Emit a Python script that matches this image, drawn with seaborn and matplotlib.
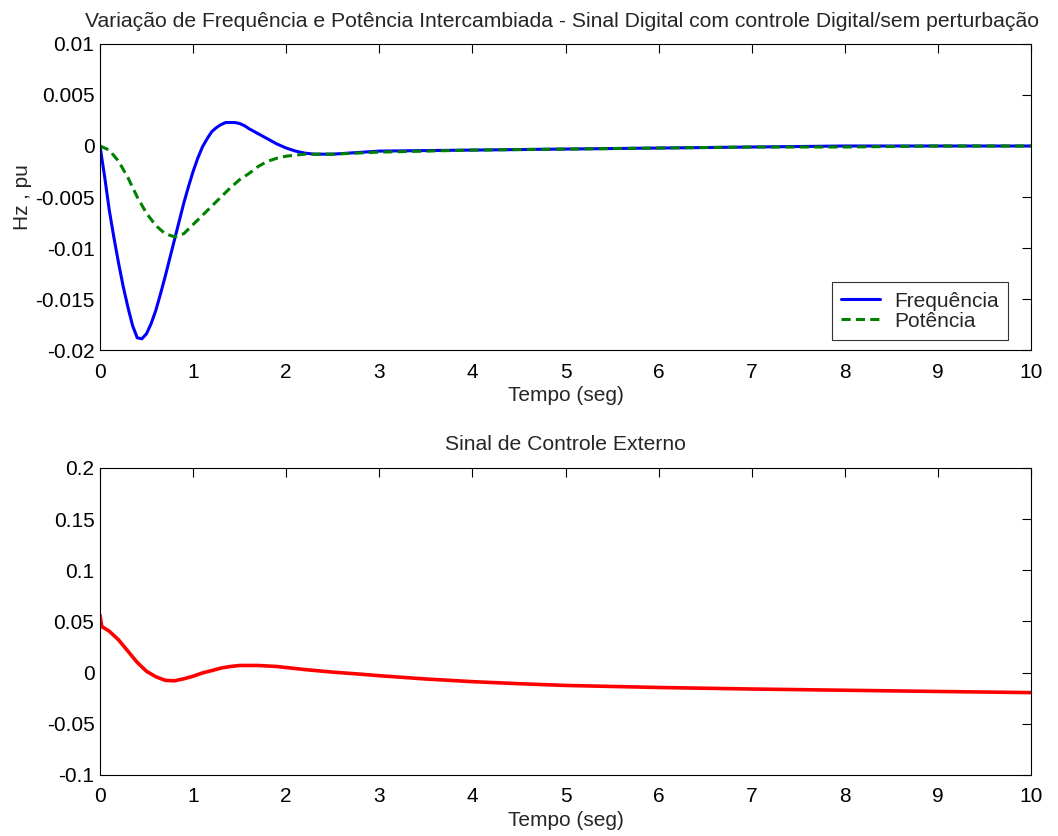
import numpy as np
import pandas as pd
import matplotlib
matplotlib.use("Agg")
import matplotlib.pyplot as plt
import seaborn as sns

# ---- data ----
t_freq = [0.0, 0.05, 0.1, 0.15, 0.2, 0.25, 0.3, 0.35, 0.4, 0.45, 0.5, 0.55, 0.6, 0.65,
          0.7, 0.75, 0.8, 0.85, 0.9, 0.95, 1.0, 1.05, 1.1, 1.15, 1.2, 1.25, 1.3, 1.35,
          1.4, 1.45, 1.5, 1.55, 1.6, 1.7, 1.8, 1.9, 2.0, 2.1, 2.2, 2.3, 2.4, 2.5, 3.0,
          4.0, 5.0, 6.0, 7.0, 8.0, 9.0, 10.0]
frequencia = [0.0, -0.0030, -0.0063, -0.0090, -0.0115, -0.0138, -0.0158, -0.0176,
              -0.0188, -0.0189, -0.0184, -0.0174, -0.0161, -0.0145, -0.0128, -0.0110,
              -0.0092, -0.0074, -0.0056, -0.0040, -0.0025, -0.0012, -0.0001, 0.0007,
              0.0014, 0.0018, 0.0021, 0.0023, 0.0023, 0.0023, 0.0022, 0.0020, 0.0017,
              0.0012, 0.0007, 0.0002, -0.0002, -0.0005, -0.0007, -0.0008, -0.0008,
              -0.0008, -0.0005, -0.0004, -0.0003, -0.0002, -0.0001, 0.0, 0.0, 0.0]

t_pot = [0.0, 0.1, 0.2, 0.3, 0.4, 0.5, 0.6, 0.7, 0.8, 0.9, 1.0, 1.1, 1.2, 1.3, 1.4,
         1.5, 1.6, 1.7, 1.8, 1.9, 2.0, 2.1, 2.2, 2.3, 2.4, 2.5, 3.0, 4.0, 5.0, 6.0,
         7.0, 8.0, 9.0, 10.0]
potencia = [0.0, -0.0004, -0.0015, -0.0031, -0.0050, -0.0066, -0.0078, -0.0086,
            -0.0089, -0.0086, -0.0077, -0.0068, -0.0059, -0.0050, -0.0041, -0.0033,
            -0.0027, -0.0020, -0.0015, -0.0012, -0.0010, -0.0009, -0.0008, -0.0008,
            -0.0008, -0.0008, -0.0006, -0.0004, -0.0003, -0.0002, -0.0001, -0.0001,
            0.0, 0.0]

t_ctrl = [0.0, 0.02, 0.1, 0.2, 0.3, 0.4, 0.5, 0.6, 0.7, 0.8, 0.9, 1.0, 1.1, 1.2, 1.3,
          1.4, 1.5, 1.7, 1.9, 2.0, 2.2, 2.5, 2.8, 3.0, 3.5, 4.0, 4.5, 5.0, 6.0, 7.0,
          8.0, 9.0, 10.0]
controle = [0.056, 0.045, 0.0405, 0.032, 0.021, 0.010, 0.0013, -0.004, -0.0075, -0.008,
            -0.006, -0.0035, -0.0003, 0.002, 0.0045, 0.006, 0.007, 0.007, 0.006, 0.005,
            0.003, 0.0005, -0.0015, -0.003, -0.0062, -0.0088, -0.0108, -0.0125, -0.0145,
            -0.016, -0.0172, -0.0184, -0.0195]

x_ticks = [0, 1, 2, 3, 4, 5, 6, 7, 8, 9, 10]
top_yticks = [-0.02, -0.015, -0.01, -0.005, 0, 0.005, 0.01]
top_yticklabels = ["-0.02", "-0.015", "-0.01", "-0.005", "0", "0.005", "0.01"]
bot_yticks = [-0.1, -0.05, 0, 0.05, 0.1, 0.15, 0.2]
bot_yticklabels = ["-0.1", "-0.05", "0", "0.05", "0.1", "0.15", "0.2"]

title_top = "Variação de Frequência e Potência Intercambiada - Sinal Digital com controle Digital/sem perturbação"
title_bot = "Sinal de Controle Externo"
xlabel = "Tempo (seg)"
ylabel_top = "Hz , pu"
series_names = ["Frequência", "Potência"]

# ---- style ----
sns.set_style("white")
plt.rcParams["font.family"] = ["Liberation Sans", "DejaVu Sans"]
FS = 15
FT = 15.2
plt.rcParams["font.size"] = FS

fig = plt.figure(figsize=(10.58, 8.36), dpi=100)
ax1 = fig.add_axes([0.0945, 0.5813, 0.88, 0.3661])
ax2 = fig.add_axes([0.0945, 0.0730, 0.88, 0.3672])

df_top = pd.DataFrame({
    "t": t_freq + t_pot,
    "v": frequencia + potencia,
    "s": [series_names[0]] * len(t_freq) + [series_names[1]] * len(t_pot),
})
sns.lineplot(data=df_top, x="t", y="v", hue="s", style="s",
             palette={series_names[0]: "#0000ff", series_names[1]: "#008000"},
             dashes={series_names[0]: "", series_names[1]: (3, 1.7)},
             linewidth=2.2, ax=ax1, legend=True, sort=False)

df_bot = pd.DataFrame({"t": t_ctrl, "v": controle})
sns.lineplot(data=df_bot, x="t", y="v", color="#ff0000", linewidth=2.6, ax=ax2,
             sort=False)

for ax in (ax1, ax2):
    ax.set_xlim(0, 10)
    ax.set_xticks(x_ticks)
    ax.set_xticklabels([str(v) for v in x_ticks])
    ax.tick_params(direction="in", length=6.5, width=0.8, top=True, right=True,
                   labelsize=FS, colors="black")
    ax.tick_params(axis="x", pad=9)
    ax.tick_params(axis="y", pad=4)
    for sp in ax.spines.values():
        sp.set_color("black")
        sp.set_linewidth(0.8)
    ax.set_xlabel(xlabel, fontsize=FS, labelpad=3)

ax1.set_ylim(-0.02, 0.01)
ax1.set_yticks(top_yticks)
ax1.set_yticklabels(top_yticklabels)
ax1.set_ylabel(ylabel_top, fontsize=FS, labelpad=2)
ax1.set_title(title_top, fontsize=FT, pad=12, x=0.496)

ax2.set_ylim(-0.1, 0.2)
ax2.set_yticks(bot_yticks)
ax2.set_yticklabels(bot_yticklabels)
ax2.set_ylabel("")
ax2.set_title(title_bot, fontsize=FT, pad=13)

leg = ax1.legend(loc="lower right", bbox_to_anchor=(0.9753, 0.0327), borderaxespad=0,
                 fontsize=FS, frameon=True, fancybox=False, edgecolor="black",
                 handlelength=1.9, handletextpad=0.65, borderpad=0.45,
                 labelspacing=0.05)
leg.set_title(None)
leg.get_frame().set_linewidth(0.8)

fig.savefig("out.png", dpi=100, facecolor="white")
